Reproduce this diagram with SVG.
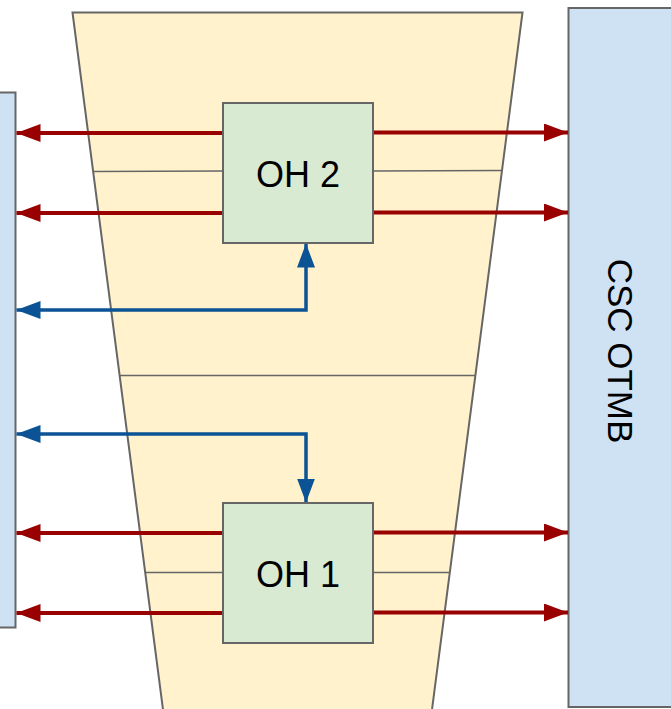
<svg xmlns="http://www.w3.org/2000/svg" width="671" height="709" viewBox="0 0 671 709">
  <style>
    .board { fill: #cfe2f3; stroke: #666666; stroke-width: 2; }
    .oh { fill: #d9ead3; stroke: #666666; stroke-width: 2; }
    .tray { fill: #fff2cc; stroke: #666666; stroke-width: 2; }
    .div { fill: none; stroke: #666666; stroke-width: 1.5; }
    .red { fill: none; stroke: #990000; stroke-width: 4; }
    .blue { fill: none; stroke: #0b5394; stroke-width: 3.5; }
    .lbl { font-family: "Liberation Sans", Arial, sans-serif; font-size: 36px; fill: #000000; text-anchor: middle; }
  </style>
  <defs>
    <marker id="arrRed" viewBox="0 0 24 18" refX="24" refY="9" markerWidth="24" markerHeight="18" markerUnits="userSpaceOnUse" orient="auto">
      <path d="M0,0 L24,9 L0,18 Z" fill="#990000"/>
    </marker>
    <marker id="arrBlue" viewBox="0 0 24 18" refX="24" refY="9" markerWidth="24" markerHeight="18" markerUnits="userSpaceOnUse" orient="auto-start-reverse">
      <path d="M0,0 L24,9 L0,18 Z" fill="#0b5394"/>
    </marker>
  </defs>

  <!-- chamber outline with sector dividers -->
  <g id="chamber">
    <polygon class="tray" points="72.5,12.5 522.5,12.5 430,725 165,725"/>
    <line class="div" x1="94" y1="171.5" x2="223" y2="171"/>
    <line class="div" x1="373" y1="171" x2="501" y2="170.5"/>
    <line class="div" x1="120" y1="375.5" x2="475.5" y2="375.5"/>
    <line class="div" x1="145" y1="572.5" x2="223" y2="572.5"/>
    <line class="div" x1="373" y1="572.5" x2="450" y2="572.5"/>
  </g>

  <!-- left board -->
  <g id="left-board">
    <rect class="board" x="-10" y="92.5" width="25.5" height="535"/>
  </g>

  <!-- CSC OTMB board -->
  <g id="otmb">
    <rect class="board" x="568.5" y="8" width="120" height="699"/>
    <text class="lbl" transform="translate(608,351) rotate(90)" x="0" y="0" style="font-size:35px">CSC OTMB</text>
  </g>

  <!-- connectors -->
  <g id="connectors">
    <line class="red" x1="223" y1="133" x2="16.5" y2="133" marker-end="url(#arrRed)"/>
    <line class="red" x1="223" y1="213" x2="16.5" y2="213" marker-end="url(#arrRed)"/>
    <line class="red" x1="373" y1="132.5" x2="568" y2="132.5" marker-end="url(#arrRed)"/>
    <line class="red" x1="373" y1="212.5" x2="568" y2="212.5" marker-end="url(#arrRed)"/>

    <line class="red" x1="223" y1="533" x2="16.5" y2="533" marker-end="url(#arrRed)"/>
    <line class="red" x1="223" y1="613" x2="16.5" y2="613" marker-end="url(#arrRed)"/>
    <line class="red" x1="373" y1="532.5" x2="568" y2="532.5" marker-end="url(#arrRed)"/>
    <line class="red" x1="373" y1="612.5" x2="568" y2="612.5" marker-end="url(#arrRed)"/>

    <path class="blue" d="M16.5,310 L306,310 L306,243.5" marker-start="url(#arrBlue)" marker-end="url(#arrBlue)"/>
    <path class="blue" d="M16.5,434 L306,434 L306,502.5" marker-start="url(#arrBlue)" marker-end="url(#arrBlue)"/>
  </g>

  <!-- optohybrid boards -->
  <g id="oh2">
    <rect class="oh" x="223" y="103" width="150" height="140"/>
    <text class="lbl" x="298" y="187">OH 2</text>
  </g>
  <g id="oh1">
    <rect class="oh" x="223" y="503" width="150" height="140"/>
    <text class="lbl" x="298" y="587">OH 1</text>
  </g>
</svg>
